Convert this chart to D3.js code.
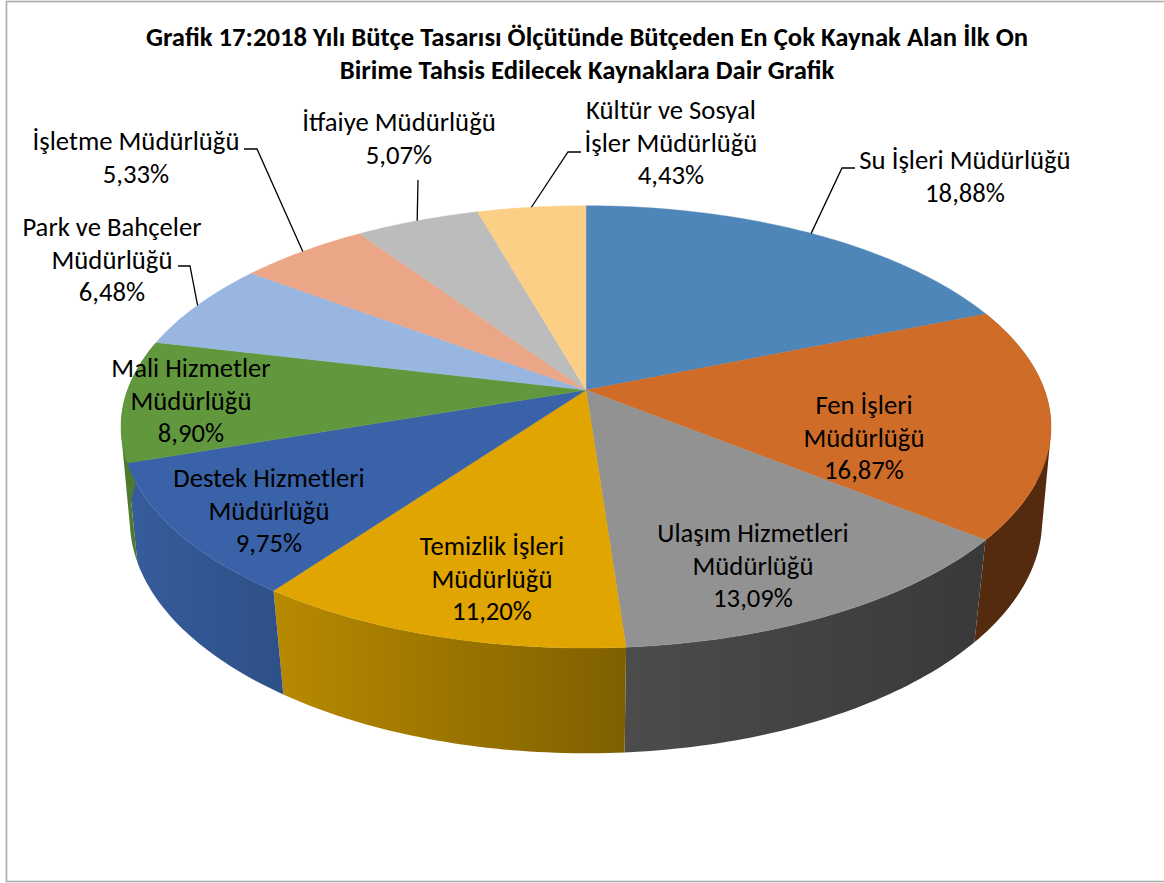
<!DOCTYPE html>
<html><head><meta charset="utf-8">
<script src="https://cdn.jsdelivr.net/npm/d3@7/dist/d3.min.js"></script>
<style>html,body{margin:0;padding:0;background:#fff}svg{display:block}text{font-family:Carlito,Lato,"Open Sans",sans-serif;fill:#000}</style>
</head><body><svg id="c" width="1164" height="883"></svg>
<script>
const categories=["Su İşleri Müdürlüğü","Fen İşleri Müdürlüğü","Ulaşım Hizmetleri Müdürlüğü","Temizlik İşleri Müdürlüğü","Destek Hizmetleri Müdürlüğü","Mali Hizmetler Müdürlüğü","Park ve Bahçeler Müdürlüğü","İşletme Müdürlüğü","İtfaiye Müdürlüğü","Kültür ve Sosyal İşler Müdürlüğü"];
const values=[18.88,16.87,13.09,11.20,9.75,8.90,6.48,5.33,5.07,4.43];
const valueLabels=["18,88%","16,87%","13,09%","11,20%","9,75%","8,90%","6,48%","5,33%","5,07%","4,43%"];
const labelLines=[["Su İşleri Müdürlüğü"],["Fen İşleri","Müdürlüğü"],["Ulaşım Hizmetleri","Müdürlüğü"],["Temizlik İşleri","Müdürlüğü"],["Destek Hizmetleri","Müdürlüğü"],["Mali Hizmetler","Müdürlüğü"],["Park ve Bahçeler","Müdürlüğü"],["İşletme Müdürlüğü"],["İtfaiye Müdürlüğü"],["Kültür ve Sosyal","İşler Müdürlüğü"]];
const titleLines=["Grafik 17:2018 Yılı Bütçe Tasarısı Ölçütünde Bütçeden En Çok Kaynak Alan İlk On","Birime Tahsis Edilecek Kaynaklara Dair Grafik"];
const topColors=["#4f86b9","#cf6c28","#929292","#e0a500","#3a62a8","#62983d","#98b6df","#eba687","#bcbcbc","#fbcf86"];
const sideLeft=["#3a6488","#552b0f","#4c4c4c","#b88a00","#365c9c","#4e7a30","#7690b5","#b87f66","#8f8f8f","#c29f66"];
const sideRight=["#3a6488","#552b0f","#393939","#7f6000","#2e5088","#4e7a30","#7690b5","#b87f66","#8f8f8f","#c29f66"];
// layout of labels: centre x, first-line centre y
const labelPos=[[965,160],[864,405],[753,533],[492,546],[269,478],[191,368],[112,227],[136,141],[399,122],[671,110]];
const leaders={0:[[855,168],[842,168]],6:[[178,266],[190,266]],7:[[244,149],[257,149]],8:[[418,180],[418,180]],9:[[581,152],[568,152]]};

const W=1164,H=883,cx=586,cy=390,A=458.5,B=215,k=0.1667,A2=451,B2=228,k2=0.15,cy2=485;
const svg=d3.select("#c");
const defs=svg.append("defs");
svg.append("rect").attr("x",6.5).attr("y",1.5).attr("width",W).attr("height",880).attr("fill","#fff").attr("stroke","#aaa").attr("stroke-width",1.6);

const top3=t=>{const u=Math.sin(t),v=Math.cos(t),d=1+k*v;return [cx+A*u/d,cy-B*v/d]};
const bot3=t=>{const u=Math.sin(t),v=Math.cos(t),d=1+k2*v;return [cx+A2*u/d,cy2-B2*v/d]};
const pie=d3.pie().sort(null).value(d=>d).startAngle(0).endAngle(2*Math.PI);
const arcs=pie(values);
const line=d3.line();
const samples=(a,b)=>{const n=Math.max(4,Math.ceil((b-a)*60));return d3.range(n+1).map(i=>a+(b-a)*i/n)};

// sides: union of same-wound quads swept along the rim
const sides=svg.append("g");
arcs.forEach((a,i)=>{
  const ts=samples(a.startAngle,a.endAngle);
  if(!ts.some(t=>Math.cos(t)<0))return;
  const all=ts.map(top3).concat(ts.map(bot3));
  const xs=d3.extent(all,p=>p[0]);
  const id="g"+i;
  const g=defs.append("linearGradient").attr("id",id).attr("gradientUnits","userSpaceOnUse").attr("x1",xs[0]).attr("x2",xs[1]).attr("y1",0).attr("y2",0);
  g.append("stop").attr("offset",0).attr("stop-color",sideLeft[i]);
  g.append("stop").attr("offset",1).attr("stop-color",sideRight[i]);
  let d="";
  for(let j=0;j<ts.length-1;j++){
    let q=[top3(ts[j]),top3(ts[j+1]),bot3(ts[j+1]),bot3(ts[j])];
    if(d3.polygonArea(q)<0)q=q.reverse();
    d+=line(q)+"Z";
  }
  sides.append("path").attr("d",d).attr("fill",`url(#${id})`);
});
// top faces
const tops=svg.append("g");
arcs.forEach((a,i)=>{
  const pts=[[cx,cy]].concat(samples(a.startAngle,a.endAngle).map(top3));
  tops.append("path").attr("d",line(pts)+"Z").attr("fill",topColors[i]).attr("stroke",topColors[i]).attr("stroke-width",0.4);
});
// leaders
const lg=svg.append("g").attr("fill","none").attr("stroke","#000").attr("stroke-width",1.3);
Object.keys(leaders).forEach(key=>{
  const i=+key,a=arcs[i];
  const end=top3((a.startAngle+a.endAngle)/2);
  lg.append("path").attr("d",line([...leaders[key],end]));
});
// labels
const labels=svg.append("g").attr("text-anchor","middle").attr("font-size",26.7);
const lh=32.7;
arcs.forEach((a,i)=>{
  const ls=labelLines[i].concat(valueLabels[i]);
  ls.forEach((s,j)=>labels.append("text").attr("x",labelPos[i][0]).attr("y",labelPos[i][1]+j*lh).attr("dy","0.33em").text(s));
});
// title
const tg=svg.append("g").attr("text-anchor","middle").attr("font-size",26.7).attr("font-weight",700);
titleLines.forEach((s,j)=>tg.append("text").attr("x",587).attr("y",37+j*33).attr("dy","0.33em").text(s));
</script></body></html>
